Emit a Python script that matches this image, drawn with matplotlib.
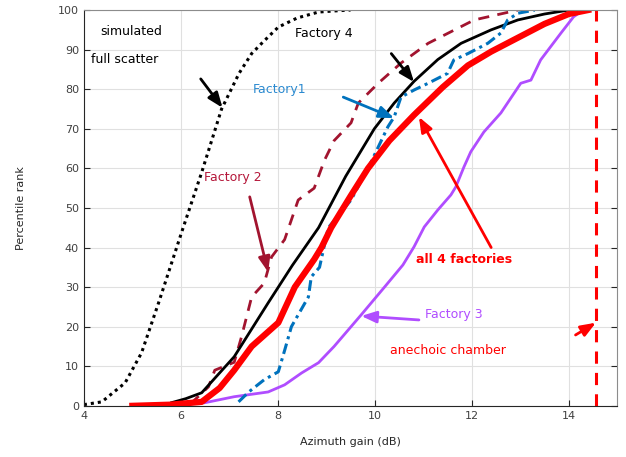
import numpy as np
import matplotlib.pyplot as plt

# curves (x = azimuth gain dB, y = percentile rank)
sim_x = [4.0, 4.37, 4.85, 5.19, 5.54, 6.02, 6.43, 6.84, 7.2, 7.46, 7.7, 8.01, 8.4, 8.84, 9.2, 9.5]
sim_y = [0.3, 1.0, 5.8, 13.4, 26.0, 44.0, 59.0, 75.0, 84.0, 89.0, 92.0, 95.7, 98.0, 99.5, 99.8, 100.0]

f4_x = [5.81, 6.1, 6.43, 7.1, 7.8, 8.3, 8.84, 9.4, 9.99, 10.4, 10.81, 11.3, 11.78, 12.4, 12.95, 13.5, 14.0]
f4_y = [0.8, 1.8, 3.3, 12.4, 26.0, 35.5, 45.0, 58.0, 70.0, 76.5, 82.0, 87.5, 91.6, 95.0, 97.5, 99.0, 100.0]

all_x = [5.0, 5.8, 6.43, 6.8, 7.1, 7.46, 8.01, 8.35, 8.75, 8.9, 9.1, 9.5, 9.86, 10.3, 10.81, 11.4, 11.92, 12.4, 12.95, 13.5, 14.0, 14.4]
all_y = [0.0, 0.3, 1.0, 4.5, 9.0, 15.0, 21.0, 30.0, 37.0, 40.0, 45.0, 53.0, 60.0, 67.0, 73.5, 80.5, 86.0, 89.5, 93.0, 96.5, 99.0, 100.0]

f1_x = [7.19, 7.4, 7.72, 8.01, 8.14, 8.28, 8.63, 8.69, 8.86, 9.04, 9.51, 9.9, 10.27, 10.4, 10.54, 10.81, 11.1, 11.5,
        11.63, 11.92, 12.33, 12.6, 12.74, 12.95, 13.3]
f1_y = [1.0, 3.5, 6.6, 8.6, 14.0, 20.0, 27.5, 32.6, 35.0, 45.0, 52.0, 61.0, 70.5, 73.0, 78.0, 79.8, 81.5, 84.0,
        87.4, 89.0, 91.6, 94.2, 97.5, 99.2, 100.0]

f2_x = [5.0, 6.2, 6.57, 6.7, 7.1, 7.25, 7.46, 7.72, 7.87, 8.14, 8.28, 8.42, 8.75, 8.9, 8.96, 9.16, 9.51, 9.66, 10.07, 10.54, 11.1, 12.05, 12.95]
f2_y = [0.0, 0.5, 4.8, 9.0, 11.0, 17.4, 27.5, 31.0, 37.6, 42.0, 47.0, 52.0, 55.0, 60.0, 62.0, 67.0, 71.5, 76.5, 81.5, 86.6, 91.6, 97.5, 100.0]

f3_x = [6.5, 7.1, 7.8, 8.14, 8.49, 8.84, 9.16, 9.72, 10.2, 10.58, 10.81, 11.02, 11.3, 11.57, 11.67, 11.84, 11.98,
        12.25, 12.6, 13.01, 13.22, 13.42, 13.84, 14.1, 14.3]
f3_y = [0.8, 2.3, 3.5, 5.3, 8.3, 10.9, 15.0, 23.0, 30.0, 35.6, 40.2, 45.2, 49.5, 53.3, 55.3, 60.4, 64.2,
        69.2, 74.0, 81.5, 82.3, 87.4, 94.2, 98.3, 100.0]

chamber_x = [14.56, 14.56]
chamber_y = [0.0, 100.0]

blue = '#0072bd'
darkred = '#a2142f'
purple = '#b04dff'

fig = plt.figure(figsize=(6.26, 4.57), dpi=100)
ax = fig.add_axes([0.134, 0.112, 0.852, 0.866])

ax.plot(sim_x, sim_y, color='black', linestyle=(0, (1, 1.3)), lw=2.2)
ax.plot(f2_x, f2_y, color=darkred, linestyle=(0, (4, 3)), lw=2.0)
ax.plot(f4_x, f4_y, color='black', lw=2.0)
ax.plot(f3_x, f3_y, color=purple, lw=2.0)
ax.plot(f1_x, f1_y, color=blue, linestyle=(0, (3.5, 1.5, 1, 1.5)), lw=2.2)
ax.plot(all_x, all_y, color='red', lw=4.5)
ax.plot(chamber_x, chamber_y, color='red', linestyle=(0, (4, 3)), lw=2.2)

def arrow(x0, y0, x1, y1, c, lw=2.0):
    ax.annotate('', xy=(x1, y1), xytext=(x0, y0),
                arrowprops=dict(arrowstyle='-|>,head_length=0.9,head_width=0.35',
                                color=c, lw=lw, shrinkA=0, shrinkB=0))

arrow(6.41, 82.6, 6.86, 75.3, 'black')
arrow(10.34, 89.0, 10.81, 81.8, 'black')
arrow(9.35, 78.0, 10.4, 72.7, blue)
arrow(12.4, 40.0, 10.91, 73.0, 'red')
arrow(7.42, 52.8, 7.8, 33.8, darkred)
arrow(10.91, 21.7, 9.72, 22.7, purple)
arrow(14.14, 17.9, 14.56, 21.0, 'red')

fs = 9
ax.text(4.97, 94.7, 'simulated', ha='center', va='center', fontsize=fs)
ax.text(4.84, 87.6, 'full scatter', ha='center', va='center', fontsize=fs)
ax.text(8.94, 94.2, 'Factory 4', ha='center', va='center', fontsize=fs)
ax.text(8.03, 80.0, 'Factory1', ha='center', va='center', fontsize=fs, color='#2b8ad0')
ax.text(7.07, 57.8, 'Factory 2', ha='center', va='center', fontsize=fs, color='#b5173a')
ax.text(11.84, 37.0, 'all 4 factories', ha='center', va='center', fontsize=fs,
        color='red', fontweight='bold')
ax.text(11.63, 23.0, 'Factory 3', ha='center', va='center', fontsize=fs, color=purple)
ax.text(11.5, 14.0, 'anechoic chamber', ha='center', va='center', fontsize=fs, color='red')

ax.set_xlim(4, 15)
ax.set_ylim(0, 100)
ax.set_xticks([4, 6, 8, 10, 12, 14])
ax.set_yticks(range(0, 101, 10))
ax.grid(True, color='#e0e0e0', lw=0.8)
ax.set_axisbelow(True)
ax.tick_params(direction='in', labelsize=8, labelcolor='#404040', color='#262626',
               right=True, top=False, length=4)
for s in ['left', 'bottom']:
    ax.spines[s].set_color('#262626')
for s in ['right', 'top']:
    ax.spines[s].set_color('#8c8c8c')
ax.set_xlabel('Azimuth gain (dB)', fontsize=8, color='#262626', labelpad=12)
ax.set_ylabel('Percentile rank', fontsize=8, color='#262626', labelpad=23)

fig.savefig('out.png', dpi=100)
